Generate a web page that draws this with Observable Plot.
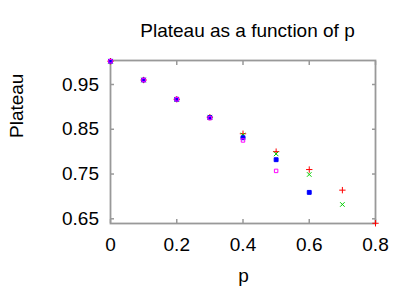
<!DOCTYPE html>
<html>
<head>
<meta charset="utf-8">
<script src="https://cdn.jsdelivr.net/npm/d3@7"></script>
<script src="https://cdn.jsdelivr.net/npm/@observablehq/plot@0.6"></script>
<style>
  html, body { margin: 0; padding: 0; background: #fff; }
  svg { display: block; }
</style>
</head>
<body>
<div id="chart"></div>
<script>
// Data
const pRed     = [0, 0.1, 0.2, 0.3, 0.4, 0.5, 0.6, 0.7, 0.8];
const plateauRed = [1.002, 0.960, 0.917, 0.877, 0.840, 0.800, 0.760, 0.714, 0.640];
const pGreen   = [0, 0.1, 0.2, 0.3, 0.4, 0.5, 0.6, 0.7];
const plateauGreen = [1.002, 0.960, 0.917, 0.877, 0.837, 0.795, 0.749, 0.682];
const pBlue    = [0, 0.1, 0.2, 0.3, 0.4, 0.5, 0.6];
const plateauBlue = [1.002, 0.960, 0.917, 0.876, 0.831, 0.782, 0.709];
const pMagenta = [0, 0.1, 0.2, 0.3, 0.4, 0.5];
const plateauMagenta = [1.002, 0.960, 0.917, 0.875, 0.825, 0.757];

const xTicks = [0, 0.2, 0.4, 0.6, 0.8];
const yTicks = [0.65, 0.75, 0.85, 0.95];

const series = [
  {p: pRed, v: plateauRed, symbol: "plus", color: "#ff0000", fill: "none"},
  {p: pGreen, v: plateauGreen, symbol: "times", color: "#00d000", fill: "none"},
  {p: pBlue, v: plateauBlue, symbol: "square", color: "#0000ff", fill: "#0000ff"},
  {p: pMagenta, v: plateauMagenta, symbol: "square2", color: "#ff00ff", fill: "none"}
];

const font = "'Liberation Sans', Arial, Helvetica, sans-serif";
const frameColor = "#999999";

const dotMarks = series.map(s => {
  const rows = s.p.map((p, i) => ({p, v: s.v[i]}));
  return Plot.dot(rows, {
    x: "p", y: "v", symbol: () => s.symbol, r: 2.2,
    stroke: s.color, fill: s.fill, strokeWidth: 1
  });
});

const chart = Plot.plot({
  width: 411,
  height: 288,
  marginLeft: 110,
  marginRight: 36,
  marginTop: 60,
  marginBottom: 65,
  style: {fontFamily: font, background: "#fff", overflow: "visible"},
  x: {domain: [0, 0.8]},
  y: {domain: [0.6395, 1.0036]},
  symbol: {type: "identity"},
  marks: [
    // inward ticks on all four sides
    Plot.axisX(xTicks, {anchor: "bottom", tickSize: -4, tickFormat: () => "", stroke: frameColor, strokeWidth: 1.5, label: null}),
    Plot.axisX(xTicks, {anchor: "top", tickSize: -4, tickFormat: () => "", stroke: frameColor, strokeWidth: 1.5, label: null}),
    Plot.axisY(yTicks, {anchor: "left", tickSize: -4, tickFormat: () => "", stroke: frameColor, strokeWidth: 1.5, label: null}),
    Plot.axisY(yTicks, {anchor: "right", tickSize: -4, tickFormat: () => "", stroke: frameColor, strokeWidth: 1.5, label: null}),
    // tick labels
    Plot.axisX(xTicks, {anchor: "bottom", tickSize: 0, tickPadding: 14, fontSize: 19, fill: "#000",
      tickFormat: d => d === 0 ? "0" : d3.format(".1f")(d), label: null}),
    Plot.axisY(yTicks, {anchor: "left", tickSize: 0, tickPadding: 11.5, fontSize: 19, fill: "#000",
      tickFormat: d3.format(".2f"), label: null}),
    Plot.frame({stroke: frameColor, strokeWidth: 1.8}),
    ...dotMarks,
    // title and axis labels
    Plot.text(["Plateau as a function of p"], {frameAnchor: "top", dy: -24, dx: 4.5, lineAnchor: "bottom", fontSize: 19, fill: "#000"}),
    Plot.text(["p"], {frameAnchor: "bottom", dy: 58.5, dx: 0.5, lineAnchor: "bottom", fontSize: 19, fill: "#000"}),
    Plot.text(["Plateau"], {frameAnchor: "left", dx: -88, dy: -4, rotate: -90, lineAnchor: "bottom", fontSize: 19, fill: "#000"})
  ]
});
document.getElementById("chart").appendChild(chart);
</script>
</body>
</html>
